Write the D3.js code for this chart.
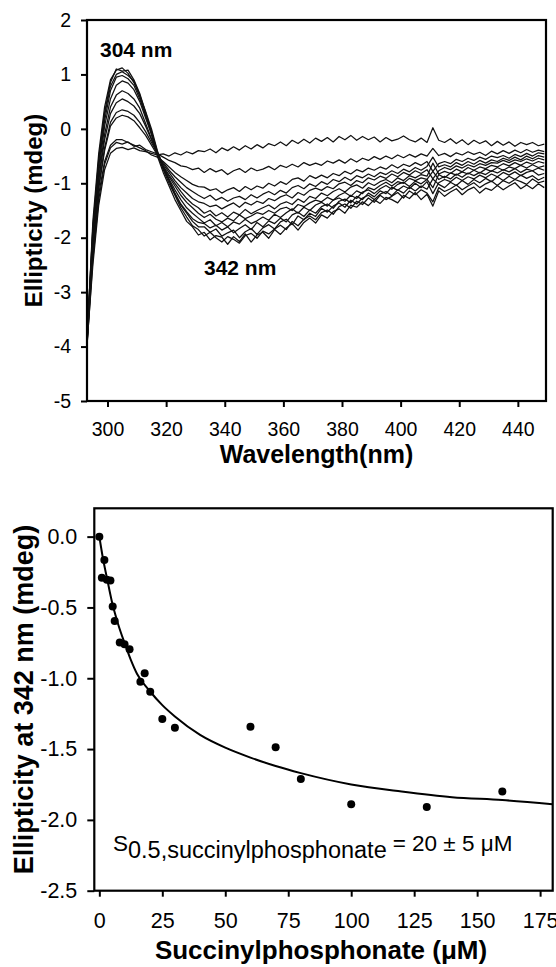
<!DOCTYPE html>
<html lang="en">
<head>
<meta charset="utf-8">
<title>CD titration with succinylphosphonate</title>
<script src="https://cdn.jsdelivr.net/npm/d3@7"></script>
<style>
    body { margin: 0; background: #fff; }
    svg text { font-family: "Liberation Sans", Arial, sans-serif; fill: #000; }
    .axis path, .axis line { stroke: #000; stroke-width: 2; }
    .axis text { font-size: 19.5px; }
    .axis2 text { font-size: 21.5px; }
</style>
</head>
<body>
<script>
// ---- top panel: CD spectra (mdeg), one array per titration point, 2 nm steps from 293 nm
var wavelengths = d3.range(293, 450, 2);
var xTicksTop = [300, 320, 340, 360, 380, 400, 420, 440];
var yTicksTop = [2, 1, 0, -1, -2, -3, -4, -5];

var cd1 = [-3.9, -1.7, -0.45, 0.4, 0.9, 1.08, 1.12, 1.02, 0.85, 0.6,
    0.25, -0.1, -0.5, -0.8, -1.05, -1.3, -1.5, -1.7, -1.8, -1.95,
    -1.9, -2.04, -1.96, -1.99, -2.12, -1.98, -2.07, -1.93, -2.08, -1.95,
    -1.9, -2.01, -1.85, -1.94, -1.82, -1.74, -1.86, -1.72, -1.64, -1.73,
    -1.58, -1.64, -1.52, -1.47, -1.55, -1.4, -1.44, -1.34, -1.41, -1.3,
    -1.37, -1.26, -1.3, -1.36, -1.22, -1.28, -1.17, -1.3, -1.2, -1.42,
    -1.14, -1.24, -1.16, -1.1, -1.21, -1.12, -1.07, -1.18, -1.09, -1.13,
    -1.04, -1.12, -1.05, -0.99, -1.1, -1.03, -1.1, -1.01, -1.08];
var cd2 = [-3.85, -1.8, -0.55, 0.3, 0.85, 1.1, 1.06, 1.08, 0.9, 0.65,
    0.3, -0.05, -0.45, -0.75, -1.0, -1.22, -1.45, -1.62, -1.78, -1.85,
    -1.97, -1.9, -2.0, -2.08, -1.98, -2.03, -2.1, -1.96, -1.92, -2.01,
    -1.88, -1.93, -1.84, -1.77, -1.85, -1.7, -1.78, -1.66, -1.6, -1.67,
    -1.54, -1.49, -1.57, -1.43, -1.38, -1.46, -1.33, -1.39, -1.27, -1.35,
    -1.22, -1.3, -1.24, -1.17, -1.27, -1.14, -1.21, -1.12, -1.18, -1.34,
    -1.08, -1.15, -1.1, -1.03, -1.12, -1.05, -0.99, -1.08, -1.01, -0.96,
    -1.04, -0.95, -1.0, -0.93, -0.97, -1.02, -0.92, -0.99, -0.96];
var cd3 = [-3.95, -1.9, -0.6, 0.25, 0.78, 1.0, 1.05, 0.98, 0.88, 0.62,
    0.32, 0.0, -0.4, -0.7, -0.95, -1.2, -1.4, -1.55, -1.7, -1.8,
    -1.8, -1.9, -1.84, -1.97, -1.91, -1.86, -2.0, -1.89, -1.83, -1.94,
    -1.82, -1.76, -1.84, -1.71, -1.66, -1.76, -1.6, -1.67, -1.55, -1.61,
    -1.46, -1.53, -1.42, -1.36, -1.44, -1.31, -1.38, -1.27, -1.22, -1.3,
    -1.2, -1.15, -1.23, -1.12, -1.18, -1.07, -1.14, -1.05, -1.11, -0.92,
    -1.02, -1.08, -0.98, -1.04, -0.95, -1.02, -0.93, -0.99, -0.91, -0.97,
    -0.88, -0.95, -0.87, -0.93, -0.85, -0.91, -0.86, -0.94, -0.89];
var cd4 = [-3.8, -1.85, -0.7, 0.15, 0.7, 0.95, 0.98, 0.92, 0.8, 0.55,
    0.25, -0.05, -0.42, -0.72, -0.95, -1.18, -1.38, -1.52, -1.65, -1.72,
    -1.74, -1.82, -1.77, -1.86, -1.8, -1.91, -1.83, -1.76, -1.85, -1.72,
    -1.8, -1.69, -1.74, -1.64, -1.71, -1.58, -1.53, -1.61, -1.49, -1.55,
    -1.43, -1.38, -1.46, -1.33, -1.29, -1.36, -1.24, -1.3, -1.18, -1.25,
    -1.14, -1.19, -1.07, -1.13, -1.05, -1.1, -1.0, -1.08, -0.97, -1.19,
    -0.99, -0.93, -0.97, -0.89, -0.95, -0.88, -0.92, -0.85, -0.9, -0.83,
    -0.88, -0.8, -0.85, -0.79, -0.86, -0.8, -0.77, -0.85, -0.82];
var cd5 = [-3.9, -2.0, -0.8, 0.05, 0.55, 0.8, 0.88, 0.84, 0.72, 0.5,
    0.2, -0.1, -0.45, -0.72, -0.92, -1.12, -1.3, -1.45, -1.55, -1.64,
    -1.73, -1.67, -1.78, -1.72, -1.8, -1.71, -1.75, -1.66, -1.74, -1.69,
    -1.62, -1.68, -1.57, -1.63, -1.54, -1.47, -1.55, -1.44, -1.5, -1.4,
    -1.35, -1.42, -1.31, -1.27, -1.33, -1.22, -1.28, -1.16, -1.12, -1.19,
    -1.1, -1.04, -1.11, -1.02, -0.98, -1.06, -0.96, -1.01, -0.93, -0.78,
    -0.93, -0.87, -0.92, -0.83, -0.89, -0.81, -0.86, -0.8, -0.84, -0.77,
    -0.81, -0.75, -0.79, -0.73, -0.8, -0.74, -0.77, -0.72, -0.76];
var cd6 = [-3.95, -2.1, -0.9, -0.1, 0.4, 0.62, 0.7, 0.65, 0.55, 0.38,
    0.1, -0.18, -0.45, -0.7, -0.88, -1.05, -1.22, -1.35, -1.45, -1.55,
    -1.63, -1.57, -1.66, -1.71, -1.64, -1.69, -1.58, -1.65, -1.6, -1.54,
    -1.57, -1.5, -1.55, -1.47, -1.44, -1.5, -1.39, -1.43, -1.36, -1.31,
    -1.34, -1.26, -1.31, -1.22, -1.17, -1.24, -1.14, -1.19, -1.08, -1.12,
    -1.04, -0.98, -1.05, -0.97, -1.0, -0.91, -0.95, -0.9, -0.93, -1.08,
    -0.84, -0.9, -0.81, -0.85, -0.79, -0.83, -0.76, -0.81, -0.74, -0.78,
    -0.71, -0.76, -0.7, -0.73, -0.67, -0.72, -0.66, -0.71, -0.68];
var cd7 = [-3.85, -2.0, -0.95, -0.2, 0.28, 0.48, 0.55, 0.5, 0.42, 0.28,
    0.05, -0.2, -0.45, -0.68, -0.85, -1.0, -1.15, -1.28, -1.38, -1.45,
    -1.55, -1.5, -1.6, -1.54, -1.62, -1.53, -1.58, -1.48, -1.56, -1.5,
    -1.45, -1.4, -1.47, -1.38, -1.34, -1.39, -1.29, -1.35, -1.24, -1.28,
    -1.18, -1.23, -1.15, -1.1, -1.16, -1.07, -1.03, -1.09, -0.99, -1.04,
    -0.97, -0.93, -0.99, -0.9, -0.95, -0.86, -0.9, -0.84, -0.87, -0.63,
    -0.83, -0.78, -0.82, -0.74, -0.79, -0.71, -0.76, -0.7, -0.73, -0.67,
    -0.7, -0.64, -0.68, -0.62, -0.67, -0.61, -0.65, -0.6, -0.63];
var cd8 = [-3.9, -2.1, -1.05, -0.35, 0.12, 0.3, 0.35, 0.32, 0.25, 0.12,
    -0.05, -0.25, -0.45, -0.65, -0.8, -0.95, -1.08, -1.18, -1.28, -1.34,
    -1.37, -1.43, -1.4, -1.47, -1.41, -1.36, -1.44, -1.35, -1.4, -1.33,
    -1.37, -1.28, -1.32, -1.25, -1.21, -1.27, -1.17, -1.22, -1.13, -1.09,
    -1.13, -1.06, -1.1, -1.01, -0.98, -1.04, -0.95, -0.99, -0.9, -0.94,
    -0.87, -0.91, -0.83, -0.88, -0.8, -0.85, -0.77, -0.82, -0.75, -0.92,
    -0.77, -0.71, -0.75, -0.68, -0.72, -0.66, -0.7, -0.64, -0.67, -0.62,
    -0.63, -0.58, -0.62, -0.57, -0.6, -0.55, -0.59, -0.54, -0.57];
var cd9 = [-4.0, -2.2, -1.1, -0.4, 0.05, 0.2, 0.25, 0.22, 0.15, 0.02,
    -0.12, -0.3, -0.48, -0.62, -0.76, -0.88, -0.98, -1.08, -1.15, -1.22,
    -1.28, -1.22, -1.31, -1.26, -1.33, -1.27, -1.24, -1.3, -1.21, -1.27,
    -1.2, -1.15, -1.21, -1.13, -1.18, -1.08, -1.04, -1.1, -1.01, -1.06,
    -0.97, -1.02, -0.93, -0.97, -0.89, -0.95, -0.86, -0.9, -0.83, -0.88,
    -0.8, -0.84, -0.77, -0.82, -0.74, -0.79, -0.71, -0.76, -0.69, -0.52,
    -0.7, -0.66, -0.7, -0.62, -0.67, -0.6, -0.65, -0.58, -0.63, -0.57,
    -0.6, -0.54, -0.58, -0.52, -0.57, -0.5, -0.55, -0.49, -0.52];
var cd10 = [-3.9, -2.3, -1.2, -0.6, -0.3, -0.2, -0.2, -0.25, -0.3, -0.35,
    -0.4, -0.48, -0.52, -0.6, -0.7, -0.8, -0.88, -0.95, -1.02, -1.06,
    -1.07, -1.13, -1.1, -1.18, -1.12, -1.08, -1.15, -1.06, -1.12, -1.05,
    -1.09, -1.0, -1.05, -0.97, -1.02, -0.93, -0.9, -0.96, -0.86, -0.91,
    -0.85, -0.9, -0.82, -0.86, -0.78, -0.83, -0.75, -0.79, -0.72, -0.76,
    -0.7, -0.74, -0.66, -0.72, -0.65, -0.69, -0.62, -0.67, -0.6, -0.78,
    -0.64, -0.6, -0.64, -0.56, -0.6, -0.54, -0.58, -0.52, -0.56, -0.5,
    -0.53, -0.49, -0.54, -0.47, -0.51, -0.45, -0.5, -0.44, -0.46];
var cd11 = [-4.0, -2.4, -1.3, -0.65, -0.35, -0.25, -0.28, -0.24, -0.32, -0.3,
    -0.38, -0.42, -0.46, -0.52, -0.58, -0.62, -0.68, -0.7, -0.75, -0.72,
    -0.8, -0.73, -0.79, -0.75, -0.84, -0.77, -0.73, -0.8, -0.72, -0.77,
    -0.74, -0.69, -0.75, -0.67, -0.71, -0.65, -0.7, -0.62, -0.67, -0.63,
    -0.67, -0.59, -0.63, -0.57, -0.63, -0.55, -0.61, -0.54, -0.58, -0.51,
    -0.56, -0.5, -0.55, -0.48, -0.53, -0.47, -0.52, -0.46, -0.5, -0.36,
    -0.49, -0.45, -0.51, -0.44, -0.48, -0.42, -0.47, -0.43, -0.49, -0.41,
    -0.46, -0.4, -0.45, -0.39, -0.44, -0.38, -0.43, -0.39, -0.42];
var cd12 = [-3.95, -2.5, -1.4, -0.75, -0.45, -0.36, -0.34, -0.38, -0.35, -0.4,
    -0.42, -0.45, -0.48, -0.46, -0.5, -0.44, -0.48, -0.42, -0.46, -0.4,
    -0.42, -0.37, -0.44, -0.35, -0.4, -0.33, -0.39, -0.31, -0.37, -0.29,
    -0.35, -0.27, -0.31, -0.24, -0.31, -0.21, -0.27, -0.19, -0.26, -0.17,
    -0.23, -0.16, -0.24, -0.14, -0.2, -0.12, -0.21, -0.14, -0.2, -0.15,
    -0.24, -0.16, -0.22, -0.19, -0.13, -0.2, -0.24, -0.17, -0.25, 0.02,
    -0.21, -0.25, -0.18, -0.27, -0.2, -0.29, -0.21, -0.27, -0.22, -0.31,
    -0.23, -0.3, -0.24, -0.32, -0.25, -0.29, -0.25, -0.31, -0.28];
var spectra = [cd1, cd2, cd3, cd4, cd5, cd6, cd7, cd8, cd9, cd10, cd11, cd12];

// ---- bottom panel: ellipticity at 342 nm vs ligand
var conc = [0, 1, 2, 3, 4.4, 5.3, 6.1, 8.1, 10, 12, 16.3, 18, 20.2, 25, 30, 60, 70, 80, 100, 130, 160];
var ellip342 = [0, -0.29, -0.165, -0.305, -0.31, -0.494, -0.595, -0.748, -0.76, -0.795, -1.024, -0.965,
    -1.095, -1.287, -1.349, -1.342, -1.487, -1.711, -1.89, -1.909, -1.80];
var fitConc = [0, 1.5, 3, 5, 7.5, 10, 12.5, 15, 20, 25, 30, 40, 50, 60, 70, 80, 100, 120, 140, 160, 180];
var fitEllip = [0, -0.16, -0.29, -0.46, -0.62, -0.75, -0.87, -0.97, -1.09, -1.19, -1.27, -1.40, -1.49,
    -1.56, -1.62, -1.67, -1.75, -1.80, -1.84, -1.86, -1.89];
var xTicksBot = [0, 25, 50, 75, 100, 125, 150, 175];
var yTicksBot = [0, -0.5, -1, -1.5, -2, -2.5];

var W = 556, H = 967;
var svg = d3.select('body').append('svg')
    .attr('width', W)
    .attr('height', H);

// ================= top panel =================
var t = { left: 87, right: 546, top: 20, bottom: 401 };
var xTop = d3.scaleLinear().domain([293, 449.6]).range([t.left, t.right]);
var yTop = d3.scaleLinear().domain([-5, 2]).range([t.bottom, t.top]);

svg.append('clipPath').attr('id', 'clipTop')
    .append('rect')
    .attr('x', t.left).attr('y', t.top)
    .attr('width', t.right - t.left).attr('height', t.bottom - t.top);

var line = d3.line()
    .x(function(d) { return xTop(d[0]); })
    .y(function(d) { return yTop(d[1]); });

svg.append('g').attr('clip-path', 'url(#clipTop)')
    .selectAll('path')
    .data(spectra)
    .enter()
    .append('path')
    .attr('d', function(s) {
        return line(s.map(function(v, i) { return [wavelengths[i], v]; }));
    })
    .attr('fill', 'none')
    .attr('stroke', '#111')
    .attr('stroke-width', 1.25)
    .attr('stroke-linejoin', 'round');

svg.append('g').attr('class', 'axis')
    .attr('transform', 'translate(0,' + t.bottom + ')')
    .call(d3.axisBottom(xTop).tickValues(xTicksTop).tickSizeInner(6).tickSizeOuter(0).tickPadding(15))
    .call(function(g) { g.select('.domain').remove(); });

svg.append('g').attr('class', 'axis')
    .attr('transform', 'translate(' + t.left + ',0)')
    .call(d3.axisLeft(yTop).tickValues(yTicksTop).tickSizeInner(6).tickSizeOuter(0).tickPadding(10)
        .tickFormat(function(d) { return String(d); }))
    .call(function(g) { g.select('.domain').remove(); });

svg.append('rect')
    .attr('x', t.left).attr('y', t.top)
    .attr('width', t.right - t.left).attr('height', t.bottom - t.top)
    .attr('fill', 'none').attr('stroke', '#000').attr('stroke-width', 2.2);

svg.append('text')
    .attr('x', (t.left + t.right) / 2).attr('y', 463)
    .attr('text-anchor', 'middle')
    .style('font-size', '25px').style('font-weight', 'bold')
    .text('Wavelength(nm)');

svg.append('text')
    .attr('transform', 'translate(42,' + (t.top + t.bottom) / 2 + ') rotate(-90)')
    .attr('text-anchor', 'middle')
    .style('font-size', '24px').style('font-weight', 'bold')
    .text('Ellipticity (mdeg)');

svg.append('text')
    .attr('x', 100).attr('y', 57)
    .style('font-size', '21px').style('font-weight', 'bold')
    .text('304 nm');

svg.append('text')
    .attr('x', 204).attr('y', 275)
    .style('font-size', '21px').style('font-weight', 'bold')
    .text('342 nm');

// ================= bottom panel =================
var b = { left: 94.3, right: 552.7, top: 508.3, bottom: 890.7 };
var xBot = d3.scaleLinear().domain([-2, 180]).range([b.left, b.right]);
var yBot = d3.scaleLinear().domain([-2.5, 0.2]).range([b.bottom, b.top]);

svg.append('clipPath').attr('id', 'clipBot')
    .append('rect')
    .attr('x', b.left).attr('y', b.top)
    .attr('width', b.right - b.left).attr('height', b.bottom - b.top);

var fitLine = d3.line()
    .x(function(d) { return xBot(d[0]); })
    .y(function(d) { return yBot(d[1]); })
    .curve(d3.curveMonotoneX);

svg.append('path')
    .attr('clip-path', 'url(#clipBot)')
    .attr('d', fitLine(fitConc.map(function(c, i) { return [c, fitEllip[i]]; })))
    .attr('fill', 'none')
    .attr('stroke', '#000')
    .attr('stroke-width', 2);

svg.append('g')
    .selectAll('circle')
    .data(conc)
    .enter()
    .append('circle')
    .attr('cx', function(d) { return xBot(d); })
    .attr('cy', function(d, i) { return yBot(ellip342[i]); })
    .attr('r', 4)
    .attr('fill', '#000');

svg.append('g').attr('class', 'axis axis2')
    .attr('transform', 'translate(0,' + b.bottom + ')')
    .call(d3.axisBottom(xBot).tickValues(xTicksBot).tickSizeInner(6).tickSizeOuter(0).tickPadding(16))
    .call(function(g) { g.select('.domain').remove(); });

svg.append('g').attr('class', 'axis axis2')
    .attr('transform', 'translate(' + b.left + ',0)')
    .call(d3.axisLeft(yBot).tickValues(yTicksBot).tickSizeInner(7).tickSizeOuter(0).tickPadding(10)
        .tickFormat(function(d) { return d.toFixed(1); }))
    .call(function(g) { g.select('.domain').remove(); });

svg.append('rect')
    .attr('x', b.left).attr('y', b.top)
    .attr('width', b.right - b.left).attr('height', b.bottom - b.top)
    .attr('fill', 'none').attr('stroke', '#000').attr('stroke-width', 2.2);

svg.append('text')
    .attr('x', 321).attr('y', 959)
    .attr('text-anchor', 'middle')
    .style('font-size', '26px').style('font-weight', 'bold')
    .text('Succinylphosphonate (\u03bcM)');

svg.append('text')
    .attr('transform', 'translate(33,' + (b.top + b.bottom) / 2 + ') rotate(-90)')
    .attr('text-anchor', 'middle')
    .style('font-size', '27px').style('font-weight', 'bold')
    .text('Ellipticity at 342 nm (mdeg)');

var note = svg.append('text')
    .attr('x', 113).attr('y', 851)
    .style('font-size', '22.5px');
note.append('tspan').text('S');
note.append('tspan').attr('dy', 7).style('font-size', '23.5px').text('0.5,succinylphosphonate');
note.append('tspan').attr('dy', -7).attr('dx', 6).text('= 20 \u00b1 5 \u03bcM');
</script>
</body>
</html>
